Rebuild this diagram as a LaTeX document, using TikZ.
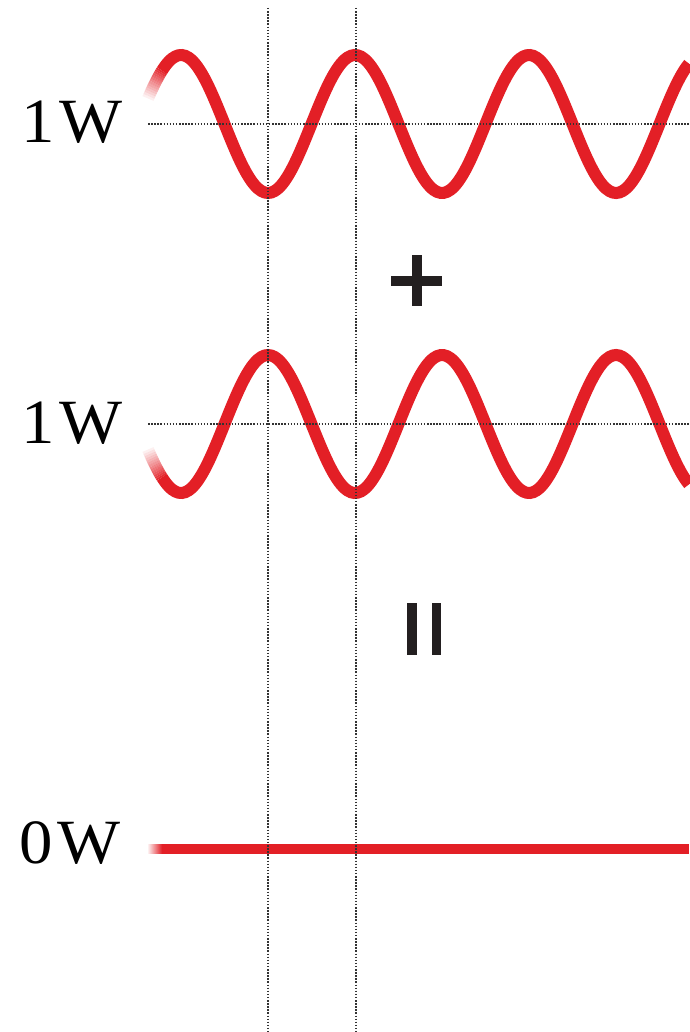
\documentclass[tikz,border=0pt]{standalone}
\usepackage{graphicx}
\usepackage{fontspec}
\setmainfont{Liberation Serif}
\newfontfamily\lblfont{Liberation Serif}
\definecolor{wavered}{HTML}{E31F26}
\definecolor{signgray}{HTML}{231F20}
\newcommand{\wlabel}[1]{\scalebox{1.06}[1]{#1}}
\begin{document}
\begin{tikzpicture}[x=1pt,y=-1pt,
  wave/.style={draw=wavered, line width=12pt},
  flat/.style={draw=wavered, line width=10pt},
  guide/.style={draw=black!80, line width=1.6pt, dash pattern=on 1.5pt off 1.6pt},
  lbl/.style={anchor=base west, inner sep=0pt, font=\lblfont\fontsize{63}{63}\selectfont},
  sign/.style={fill=signgray}]
\useasboundingbox[fill=white] (0,0) rectangle (689,1032);

% main waves
\draw[wave] plot[domain=162:689, samples=160, smooth] (\x, {124-69*cos((\x-181)/174*360)});
\draw[wave] plot[domain=162:689, samples=160, smooth] (\x, {424+69*cos((\x-181)/174*360)});
\draw[flat] (162,849) -- (689,849);

% faded left ends
\foreach \i in {0,...,13}{
  \pgfmathsetmacro\xa{148+\i}
  \pgfmathsetmacro\xb{149+\i}
  \pgfmathsetmacro\op{(\i+1)/15}
  \draw[wave, opacity=\op] plot[domain=\xa:\xb, samples=3] (\x, {124-69*cos((\x-181)/174*360)});
  \draw[wave, opacity=\op] plot[domain=\xa:\xb, samples=3] (\x, {424+69*cos((\x-181)/174*360)});
  \draw[flat, opacity=\op] (\xa,849) -- (\xb,849);
}

% guide lines
\coordinate (v1t) at (268,8);
\coordinate (v1b) at (268,1032);
\coordinate (v2t) at (356,8);
\coordinate (v2b) at (356,1032);
\coordinate (h1l) at (148,124);
\coordinate (h1r) at (689,124);
\coordinate (h2l) at (148,424);
\coordinate (h2r) at (689,424);
\draw[guide] (v1t) -- (v1b);
\draw[guide] (v2t) -- (v2b);
\draw[guide] (h1l) -- (h1r);
\draw[guide] (h2l) -- (h2r);

% plus sign
\fill[sign] (391,276) rectangle (442,286);
\fill[sign] (412,255) rectangle (422,306);
% equals sign (vertical bars)
\fill[sign] (407,603) rectangle (417,655);
\fill[sign] (432,603) rectangle (441,655);

% labels
\node[lbl] (l1) at (21,143) {\wlabel{1\kern5pt W}};
\node[lbl] (l2) at (21,443) {\wlabel{1\kern5pt W}};
\node[lbl] (l0) at (19,863) {\wlabel{0\kern5pt W}};
\end{tikzpicture}
\end{document}
